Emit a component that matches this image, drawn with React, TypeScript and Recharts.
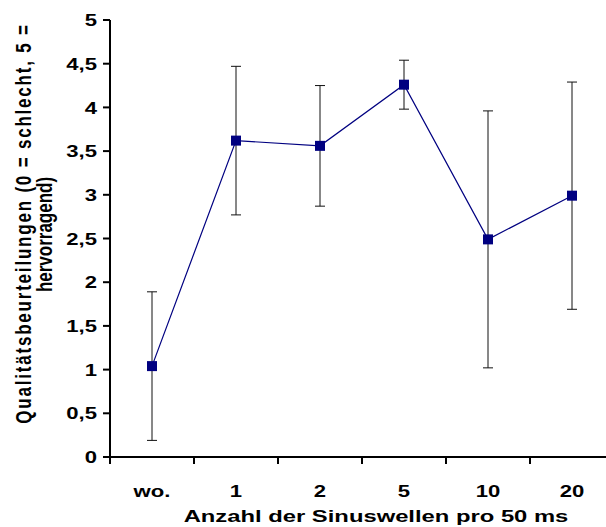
import React from 'react';
import { LineChart, Line, XAxis, YAxis, ErrorBar } from 'recharts';

const categories = ['wo.', '1', '2', '5', '10', '20'];
const means = [1.04, 3.62, 3.56, 4.26, 2.49, 2.99];
const errors = [0.85, 0.85, 0.69, 0.28, 1.47, 1.3];
const yTicks = [0, 0.5, 1, 1.5, 2, 2.5, 3, 3.5, 4, 4.5, 5];
// integers = category boundaries (tick marks), halves = category centres (labels)
const xTicks = [0, 0.5, 1, 1.5, 2, 2.5, 3, 3.5, 4, 4.5, 5, 5.5, 6];
const yTitle1 = 'Qualitätsbeurteilungen (0 = schlecht, 5 =';
const yTitle2 = 'hervorragend)';
const xTitle = 'Anzahl der Sinuswellen pro 50 ms';

const data = categories.map((c, i) => ({ name: c, pos: i + 0.5, mean: means[i], err: errors[i] }));

const FONT = '"Liberation Sans", Arial, sans-serif';
const NAVY = '#000080';

const XTick = (props: any) => {
  const { x, y, payload } = props;
  const v = payload.value;
  if (Number.isInteger(v)) {
    return <line x1={x} y1={y} x2={x} y2={y + 7} stroke="#000" strokeWidth={2} />;
  }
  return (
    <text transform={`translate(${x},${y + 40}) scale(1.3,1)`} textAnchor="middle"
      fontSize={17} fontWeight="bold" fontFamily={FONT} fill="#000">
      {categories[Math.floor(v)]}
    </text>
  );
};

const YTick = (props: any) => {
  const { x, y, payload } = props;
  return (
    <text transform={`translate(${x},${y}) scale(1.3,1)`} textAnchor="end" dy="0.36em"
      fontSize={17} fontWeight="bold" fontFamily={FONT} fill="#000">
      {String(payload.value).replace('.', ',')}
    </text>
  );
};

const YTitle = (props: any) => {
  const { x, y, height } = props.viewBox;
  const mid = y + height / 2;
  return (
    <g fontFamily={FONT} fontWeight="bold" fontSize={17} fill="#000">
      <text transform={`translate(${x + 24},${mid - 15}) rotate(-90) scale(1,1.25)`}
        textAnchor="middle" dominantBaseline="central" letterSpacing={1.8}>
        {yTitle1}
      </text>
      <text transform={`translate(${x + 45},${mid - 4}) rotate(-90) scale(1,1.25)`}
        textAnchor="middle" dominantBaseline="central">
        {yTitle2}
      </text>
    </g>
  );
};

const XTitle = (props: any) => {
  const { x, y, width } = props.viewBox;
  return (
    <text transform={`translate(${x + width / 2 + 14},${y + 65}) scale(1.4,1)`} textAnchor="middle"
      fontSize={17} fontWeight="bold" fontFamily={FONT} fill="#000">
      {xTitle}
    </text>
  );
};

const Square = (props: any) => {
  const { cx, cy, index } = props;
  return <rect key={index} x={cx - 5} y={cy - 5} width={10} height={10} fill={NAVY} />;
};

export default function App() {
  return (
    <div style={{ position: 'fixed', left: 0, top: 0, width: 606, height: 527, overflow: 'hidden', background: '#fff' }}>
      <LineChart width={620} height={527} data={data} margin={{ top: 20, right: 6, bottom: 0, left: 0 }}>
        <XAxis xAxisId="top" orientation="top" type="number" domain={[0, 6]} height={0}
          tick={false} tickLine={false} axisLine={{ stroke: '#000', strokeWidth: 1 }} />
        <XAxis type="number" dataKey="pos" domain={[0, 6]} ticks={xTicks} interval={0}
          tickSize={0} tickMargin={0} tickLine={false} height={70}
          axisLine={{ stroke: '#000', strokeWidth: 2 }} tick={XTick} label={{ content: XTitle }} />
        <YAxis type="number" domain={[0, 5]} ticks={yTicks} interval={0} width={110}
          tickSize={7} tickMargin={6} tickLine={{ stroke: '#000', strokeWidth: 2 }}
          axisLine={{ stroke: '#000', strokeWidth: 2 }} tick={YTick} label={{ content: YTitle }} />
        <Line dataKey="mean" stroke={NAVY} strokeWidth={1.2} dot={Square} activeDot={false}
          isAnimationActive={false}>
          <ErrorBar dataKey="err" width={5} stroke="#111" strokeWidth={1} />
        </Line>
      </LineChart>
    </div>
  );
}
